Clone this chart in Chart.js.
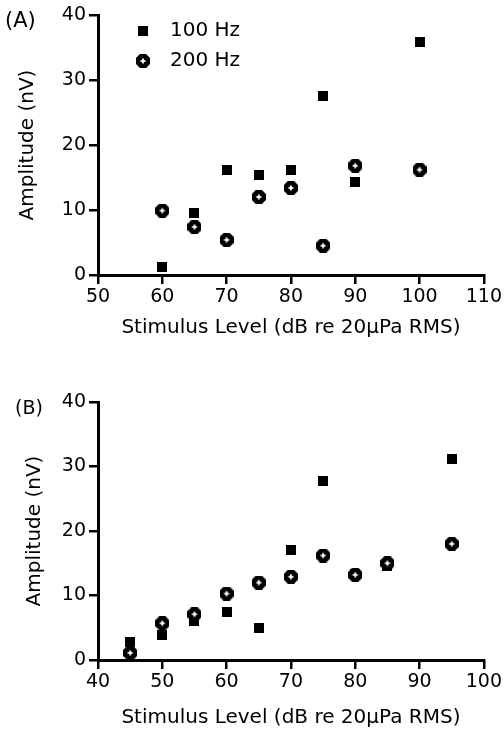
<!DOCTYPE html>
<html>
<head>
<meta charset="utf-8">
<script src="https://cdn.jsdelivr.net/npm/chart.js@4/dist/chart.umd.min.js"></script>
<style>
  html, body { margin: 0; padding: 0; background: #fff; }
  #wrap { position: relative; width: 504px; height: 732px; overflow: hidden; }
  .box { position: absolute; left: 0; width: 504px; }
  #boxA { top: 0; height: 350px; }
  #boxB { top: 370px; height: 362px; }
</style>
</head>
<body>
<div id="wrap">
  <div class="box" id="boxA"><canvas id="chartA"></canvas></div>
  <div class="box" id="boxB"><canvas id="chartB"></canvas></div>
</div>
<script>
// ---- Data ----
const seriesNames = ['100 Hz', '200 Hz'];
const panelLabels = ['(A)', '(B)'];
const xTitle = 'Stimulus Level (dB re 20\u03bcPa RMS)';
const yTitle = 'Amplitude (nV)';

// Panel A
const levelsA = [60, 65, 70, 75, 80, 85, 90, 100];
const amp100A = [1.3, 9.5, 16.2, 15.4, 16.2, 27.5, 14.3, 35.9];
const amp200A = [9.9, 7.4, 5.4, 12.0, 13.4, 4.5, 16.8, 16.2];
const xTicksA = [50, 60, 70, 80, 90, 100, 110];

// Panel B
const levelsB = [45, 50, 55, 60, 65, 70, 75, 80, 85, 95];
const amp100B = [2.8, 3.8, 6.1, 7.5, 4.9, 17.1, 27.8, 13.3, 14.6, 31.2];
const amp200B = [1.1, 5.7, 7.1, 10.3, 12.0, 12.9, 16.2, 13.2, 15.0, 18.0];
const xTicksB = [40, 50, 60, 70, 80, 90, 100];

const yTicks = [0, 10, 20, 30, 40];

// ---- Marker images ----
function squareMarker() {
  const c = document.createElement('canvas');
  c.width = 10; c.height = 10;
  const g = c.getContext('2d');
  g.fillStyle = '#000';
  g.fillRect(0, 0, 10, 10);
  return c;
}
function octMarker() {
  const c = document.createElement('canvas');
  c.width = 14; c.height = 14;
  const g = c.getContext('2d');
  const cx = 7, cy = 7, h = 7, k = 3.1;
  g.fillStyle = '#000';
  g.beginPath();
  g.moveTo(cx - k, cy - h); g.lineTo(cx + k, cy - h);
  g.lineTo(cx + h, cy - k); g.lineTo(cx + h, cy + k);
  g.lineTo(cx + k, cy + h); g.lineTo(cx - k, cy + h);
  g.lineTo(cx - h, cy + k); g.lineTo(cx - h, cy - k);
  g.closePath(); g.fill();
  g.fillStyle = '#fff';
  g.fillRect(cx - 2.5, cy - 0.9, 5, 1.8);
  g.fillRect(cx - 0.9, cy - 2.5, 1.8, 5);
  return c;
}
const markers = [squareMarker(), octMarker()];

Chart.defaults.font.family = "'DejaVu Sans', Verdana, sans-serif";
Chart.defaults.color = '#000';

function pts(xs, ys) { return xs.map((x, i) => ({ x: x, y: ys[i] })); }

const panelPlugin = {
  id: 'panelDecor',
  afterDraw(chart, args, opts) {
    const ctx = chart.ctx;
    ctx.save();
    ctx.fillStyle = '#000';
    ctx.textBaseline = 'middle';
    ctx.textAlign = 'left';
    ctx.font = opts.labelSize + "px 'DejaVu Sans'";
    ctx.fillText(opts.label, opts.labelX, opts.labelY);
    if (opts.legend) {
      ctx.font = "20px 'DejaVu Sans'";
      chart.data.datasets.forEach((ds, i) => {
        const img = ds.pointStyle;
        const cy = opts.legendY + i * opts.legendStep;
        ctx.drawImage(img, Math.round(opts.legendX - img.width / 2), Math.round(cy - img.height / 2));
        ctx.fillText(ds.label, opts.legendTextX, cy);
      });
    }
    ctx.restore();
  }
};

function makeChart(id, xs, y100, y200, xTicks, cfg) {
  return new Chart(document.getElementById(id), {
    type: 'scatter',
    data: {
      datasets: [
        { label: seriesNames[0], data: pts(xs, y100), pointStyle: markers[0], order: 2,
          backgroundColor: '#000', borderColor: '#000' },
        { label: seriesNames[1], data: pts(xs, y200), pointStyle: markers[1], order: 1,
          backgroundColor: '#000', borderColor: '#000' }
      ]
    },
    options: {
      responsive: true,
      maintainAspectRatio: false,
      animation: false,
      events: [],
      layout: { padding: { left: 0, top: cfg.padTop, right: cfg.padRight, bottom: 0 } },
      plugins: {
        legend: { display: false },
        tooltip: { enabled: false },
        panelDecor: cfg.decor
      },
      scales: {
        x: {
          type: 'linear',
          min: xTicks[0], max: xTicks[xTicks.length - 1],
          afterBuildTicks: (s) => { s.ticks = xTicks.map(v => ({ value: v })); },
          afterFit: (s) => { s.height = cfg.xAxisH; },
          ticks: { font: { size: 19 }, padding: 2, color: '#000', maxRotation: 0 },
          grid: { display: true, drawOnChartArea: false, drawTicks: true, tickLength: 9, lineWidth: 2.5, color: '#000' },
          border: { display: true, width: 3, color: '#000' },
          title: { display: true, text: xTitle, font: { size: 20 }, color: '#000',
                   padding: { top: 0, bottom: cfg.xTitlePad } }
        },
        y: {
          type: 'linear',
          min: 0, max: 40,
          afterBuildTicks: (s) => { s.ticks = yTicks.map(v => ({ value: v })); },
          afterFit: (s) => { s.width = 98; },
          ticks: { font: { size: 19 }, padding: 3, color: '#000' },
          grid: { display: true, drawOnChartArea: false, drawTicks: true, tickLength: 9, lineWidth: 2.5, color: '#000' },
          border: { display: true, width: 3, color: '#000' },
          title: { display: true, text: yTitle, font: { size: 20 }, color: '#000',
                   padding: { top: cfg.yTitlePad, bottom: 0 } }
        }
      }
    },
    plugins: [panelPlugin]
  });
}

makeChart('chartA', levelsA, amp100A, amp200A, xTicksA, {
  padTop: 15, padRight: 17, xAxisH: 75, xTitlePad: 10, yTitlePad: 16,
  decor: { label: panelLabels[0], labelSize: 21, labelX: 5, labelY: 22,
           legend: true, legendX: 143, legendY: 31, legendStep: 30, legendTextX: 170 }
});
makeChart('chartB', levelsB, amp100B, amp200B, xTicksB, {
  padTop: 32, padRight: 16, xAxisH: 72, xTitlePad: 2, yTitlePad: 23,
  decor: { label: panelLabels[1], labelSize: 19, labelX: 15, labelY: 39, legend: false }
});
</script>
</body>
</html>
